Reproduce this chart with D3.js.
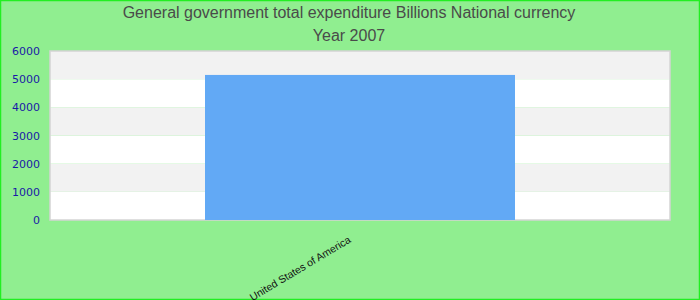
<!DOCTYPE html>
<html>
<head>
<meta charset="utf-8">
<script src="https://cdn.jsdelivr.net/npm/d3@7"></script>
<style>
  body { margin: 0; }
</style>
</head>
<body>
<div id="chart"></div>
<script>
const width = 700;
const height = 300;

const titleLines = ["General government total expenditure Billions National currency", "Year 2007"];
const countries = ["United States of America"];
const values = [5150];
const yTicks = [0, 1000, 2000, 3000, 4000, 5000, 6000];

const margin = { top: 51, right: 30, bottom: 80, left: 50 };

const svg = d3.select("#chart")
    .append("svg")
    .attr("width", width)
    .attr("height", height);

// background + border
svg.append("rect")
    .attr("x", 0.5).attr("y", 0.5)
    .attr("width", width - 1).attr("height", height - 1)
    .attr("fill", "#90ee90")
    .attr("stroke", "#22ee22")
    .attr("stroke-width", 1.5);

const x = d3.scaleBand()
    .domain(countries)
    .range([margin.left, width - margin.right])
    .paddingInner(0)
    .paddingOuter(0.5);

const y = d3.scaleLinear()
    .domain([0, 6000])
    .range([height - margin.bottom, margin.top]);

// alternating bands
const bands = d3.pairs(yTicks);
svg.append("g")
    .selectAll("rect")
    .data(bands)
    .enter()
    .append("rect")
    .attr("x", margin.left)
    .attr("width", width - margin.right - margin.left)
    .attr("y", d => y(d[1]))
    .attr("height", d => y(d[0]) - y(d[1]))
    .attr("fill", (d, i) => i % 2 === 0 ? "#ffffff" : "#f2f2f2");

// plot border
svg.append("rect")
    .attr("x", margin.left)
    .attr("y", margin.top)
    .attr("width", width - margin.right - margin.left)
    .attr("height", y(0) - margin.top)
    .attr("fill", "none")
    .attr("stroke", "#d4d4d4")
    .attr("stroke-width", 1.5);

// bars
svg.append("g")
    .selectAll("rect")
    .data(countries)
    .enter()
    .append("rect")
    .attr("x", d => x(d))
    .attr("width", x.bandwidth())
    .attr("y", (d, i) => y(values[i]))
    .attr("height", (d, i) => y(0) - y(values[i]))
    .attr("fill", "#62a9f5");

// y axis
const yAxis = svg.append("g")
    .attr("transform", `translate(${margin.left},0)`)
    .call(d3.axisLeft(y).tickValues(yTicks).tickFormat(d3.format("d")).tickSize(0).tickPadding(10));
yAxis.select(".domain").remove();
yAxis.selectAll("text")
    .attr("fill", "#1a1aa6")
    .style("font-family", "DejaVu Sans, sans-serif")
    .style("font-size", "11px");

// x axis labels
const xAxis = svg.append("g")
    .attr("transform", `translate(0,${y(0)})`)
    .call(d3.axisBottom(x).tickSize(0).tickPadding(0));
xAxis.select(".domain").remove();
xAxis.selectAll("text")
    .attr("fill", "#111")
    .style("font-family", "Liberation Sans, Arial, sans-serif")
    .style("font-size", "10.5px")
    .attr("text-anchor", "end")
    .attr("dy", "0.3em")
    .attr("transform", "translate(-10,19) rotate(-31)");

// title
svg.append("g")
    .selectAll("text")
    .data(titleLines)
    .enter()
    .append("text")
    .attr("x", width / 2 - 1)
    .attr("y", (d, i) => 18 + i * 23)
    .attr("text-anchor", "middle")
    .attr("fill", "#4a4a4a")
    .style("font-family", "Liberation Sans, Arial, sans-serif")
    .style("font-size", "16px")
    .text(d => d);
</script>
</body>
</html>
